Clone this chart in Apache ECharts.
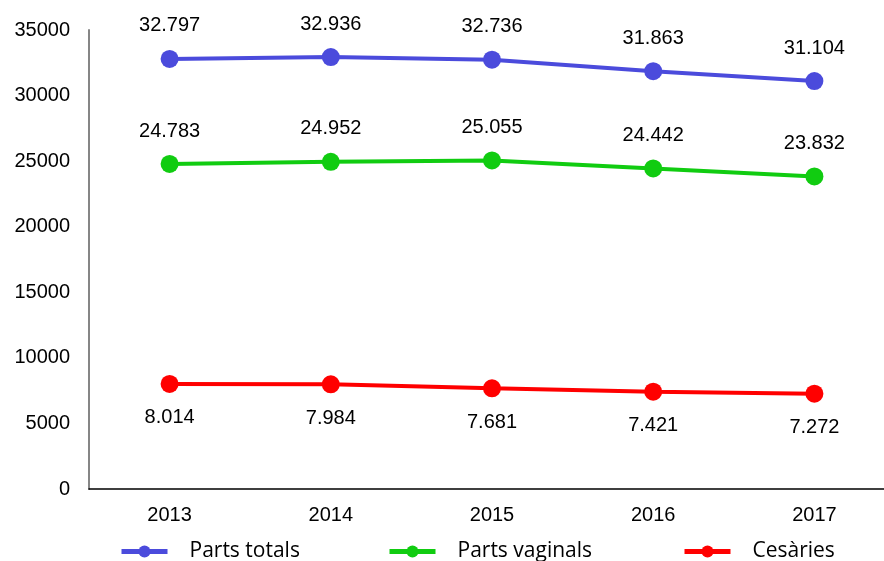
<!DOCTYPE html>
<html>
<head>
<meta charset="utf-8">
<script src="https://cdn.jsdelivr.net/npm/echarts@6/dist/echarts.min.js"></script>
<style>
  html, body { margin: 0; padding: 0; background: #fff; }
  #chart { width: 884px; height: 561px; }
</style>
</head>
<body>
<div id="chart"></div>
<script>
var years = ['2013', '2014', '2015', '2016', '2017'];
var partsTotals = [32797, 32936, 32736, 31863, 31104];
var partsVaginals = [24783, 24952, 25055, 24442, 23832];
var cesaries = [8014, 7984, 7681, 7421, 7272];

var blue = '#4b4bdc';
var green = '#11cc11';
var red = '#ff0000';

function dotted(p) {
  return String(p.value).replace(/\B(?=(\d{3})+(?!\d))/g, '.');
}

function makeSeries(name, data, color, pos, dist) {
  return {
    name: name,
    type: 'line',
    data: data,
    symbol: 'circle',
    symbolSize: 18,
    lineStyle: { width: 4, color: color },
    itemStyle: { color: color },
    label: {
      show: true,
      position: pos,
      distance: dist,
      color: '#000',
      fontFamily: 'Liberation Sans',
      fontSize: 20,
      formatter: dotted
    }
  };
}

function makeLegend(name, left) {
  return {
    data: [name],
    left: left,
    top: 541,
    padding: 0,
    itemWidth: 46,
    itemHeight: 15,
    itemGap: 0,
    lineStyle: { width: 5 },
    textStyle: {
      color: '#000',
      fontFamily: 'Open Sans',
      fontSize: 21,
      padding: [0, 0, 0, 17]
    }
  };
}

var chart = echarts.init(document.getElementById('chart'), null, { renderer: 'canvas' });
chart.setOption({
  animation: false,
  legend: [
    makeLegend('Parts totals', 119),
    makeLegend('Parts vaginals', 387),
    makeLegend('Cesàries', 682)
  ],
  grid: { left: 89, right: -11, top: 30, bottom: 72, outerBoundsMode: 'none' },
  xAxis: {
    type: 'category',
    data: years,
    axisLine: { lineStyle: { color: '#000', width: 1.5 } },
    axisTick: { show: false },
    axisLabel: { color: '#000', fontFamily: 'Liberation Sans', fontSize: 20, margin: 16 }
  },
  yAxis: {
    type: 'value',
    min: 0,
    max: 35000,
    interval: 5000,
    axisLine: { show: true, lineStyle: { color: '#868686', width: 2 } },
    axisTick: { show: false },
    splitLine: { show: false },
    axisLabel: {
      color: '#000', fontFamily: 'Liberation Sans', fontSize: 20, margin: 19,
      formatter: function (v) { return String(v); }
    }
  },
  series: [
    makeSeries('Parts totals', partsTotals, blue, 'top', 14),
    makeSeries('Parts vaginals', partsVaginals, green, 'top', 14),
    makeSeries('Cesàries', cesaries, red, 'bottom', 15)
  ]
});
</script>
</body>
</html>
